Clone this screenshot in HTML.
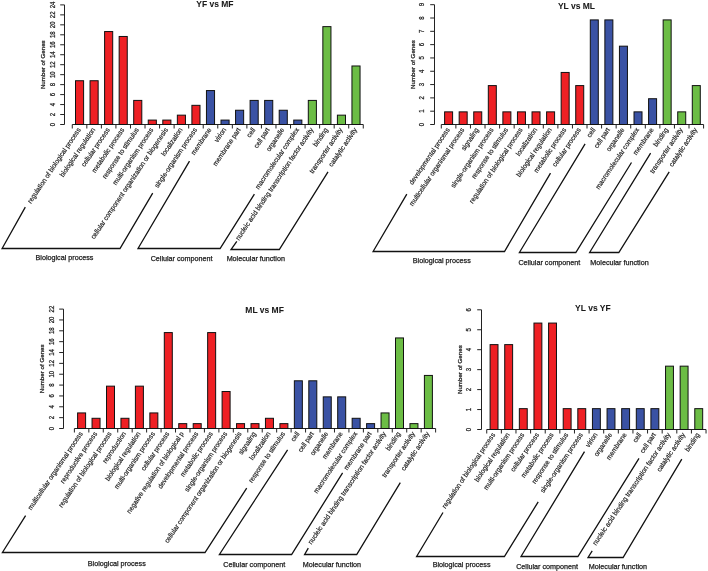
<!DOCTYPE html>
<html><head><meta charset="utf-8"><style>
html,body{margin:0;padding:0;background:#fff;}
svg{display:block;will-change:transform;}
text{font-family:"Liberation Sans", sans-serif;fill:#1a1a1a;stroke:#1a1a1a;stroke-width:0.25px;}
.ax{stroke:#222;stroke-width:1;fill:none;}
.bar{stroke:#111;stroke-width:1;}
.br{stroke:#111;stroke-width:1.3;fill:none;}
.tk{font-size:6.8px;text-anchor:middle;}
.yl{font-size:6.2px;text-anchor:middle;}
.lb{font-size:7.0px;text-anchor:end;stroke-width:0.18px;}
.gp{font-size:7.2px;text-anchor:middle;}
.tt{font-size:8.5px;font-weight:bold;text-anchor:middle;stroke-width:0.05px;}
</style></head><body>
<svg width="708" height="571" viewBox="0 0 708 571">
<rect width="708" height="571" fill="#fff"/>
<line x1="64.5" y1="4.9" x2="64.5" y2="124.5" class="ax"/>
<line x1="60.20" y1="124.50" x2="64.5" y2="124.50" class="ax"/>
<text transform="translate(54.70,124.50) rotate(-90) scale(0.88,1)" class="tk">0</text>
<line x1="60.20" y1="114.53" x2="64.5" y2="114.53" class="ax"/>
<text transform="translate(54.70,114.53) rotate(-90) scale(0.88,1)" class="tk">2</text>
<line x1="60.20" y1="104.57" x2="64.5" y2="104.57" class="ax"/>
<text transform="translate(54.70,104.57) rotate(-90) scale(0.88,1)" class="tk">4</text>
<line x1="60.20" y1="94.60" x2="64.5" y2="94.60" class="ax"/>
<text transform="translate(54.70,94.60) rotate(-90) scale(0.88,1)" class="tk">6</text>
<line x1="60.20" y1="84.63" x2="64.5" y2="84.63" class="ax"/>
<text transform="translate(54.70,84.63) rotate(-90) scale(0.88,1)" class="tk">8</text>
<line x1="60.20" y1="74.67" x2="64.5" y2="74.67" class="ax"/>
<text transform="translate(54.70,74.67) rotate(-90) scale(0.88,1)" class="tk">10</text>
<line x1="60.20" y1="64.70" x2="64.5" y2="64.70" class="ax"/>
<text transform="translate(54.70,64.70) rotate(-90) scale(0.88,1)" class="tk">12</text>
<line x1="60.20" y1="54.73" x2="64.5" y2="54.73" class="ax"/>
<text transform="translate(54.70,54.73) rotate(-90) scale(0.88,1)" class="tk">14</text>
<line x1="60.20" y1="44.77" x2="64.5" y2="44.77" class="ax"/>
<text transform="translate(54.70,44.77) rotate(-90) scale(0.88,1)" class="tk">16</text>
<line x1="60.20" y1="34.80" x2="64.5" y2="34.80" class="ax"/>
<text transform="translate(54.70,34.80) rotate(-90) scale(0.88,1)" class="tk">18</text>
<line x1="60.20" y1="24.83" x2="64.5" y2="24.83" class="ax"/>
<text transform="translate(54.70,24.83) rotate(-90) scale(0.88,1)" class="tk">20</text>
<line x1="60.20" y1="14.87" x2="64.5" y2="14.87" class="ax"/>
<text transform="translate(54.70,14.87) rotate(-90) scale(0.88,1)" class="tk">22</text>
<line x1="60.20" y1="4.90" x2="64.5" y2="4.90" class="ax"/>
<text transform="translate(54.70,4.90) rotate(-90) scale(0.88,1)" class="tk">24</text>
<text transform="translate(44.50,64.70) rotate(-90)" class="yl">Number of Genes</text>
<line x1="72.28" y1="124.5" x2="363.27" y2="124.5" class="ax"/>
<line x1="72.28" y1="124.5" x2="72.28" y2="128.50" class="ax"/>
<line x1="86.83" y1="124.5" x2="86.83" y2="128.50" class="ax"/>
<line x1="101.38" y1="124.5" x2="101.38" y2="128.50" class="ax"/>
<line x1="115.93" y1="124.5" x2="115.93" y2="128.50" class="ax"/>
<line x1="130.48" y1="124.5" x2="130.48" y2="128.50" class="ax"/>
<line x1="145.03" y1="124.5" x2="145.03" y2="128.50" class="ax"/>
<line x1="159.58" y1="124.5" x2="159.58" y2="128.50" class="ax"/>
<line x1="174.12" y1="124.5" x2="174.12" y2="128.50" class="ax"/>
<line x1="188.68" y1="124.5" x2="188.68" y2="128.50" class="ax"/>
<line x1="203.23" y1="124.5" x2="203.23" y2="128.50" class="ax"/>
<line x1="217.78" y1="124.5" x2="217.78" y2="128.50" class="ax"/>
<line x1="232.33" y1="124.5" x2="232.33" y2="128.50" class="ax"/>
<line x1="246.88" y1="124.5" x2="246.88" y2="128.50" class="ax"/>
<line x1="261.43" y1="124.5" x2="261.43" y2="128.50" class="ax"/>
<line x1="275.98" y1="124.5" x2="275.98" y2="128.50" class="ax"/>
<line x1="290.52" y1="124.5" x2="290.52" y2="128.50" class="ax"/>
<line x1="305.08" y1="124.5" x2="305.08" y2="128.50" class="ax"/>
<line x1="319.62" y1="124.5" x2="319.62" y2="128.50" class="ax"/>
<line x1="334.18" y1="124.5" x2="334.18" y2="128.50" class="ax"/>
<line x1="348.73" y1="124.5" x2="348.73" y2="128.50" class="ax"/>
<line x1="363.27" y1="124.5" x2="363.27" y2="128.50" class="ax"/>
<rect x="75.50" y="80.73" width="8.10" height="43.77" fill="#ee2024" class="bar"/>
<text transform="translate(80.95,129.80) rotate(-56) scale(0.932,1)" class="lb">regulation of biological process</text>
<rect x="90.05" y="80.73" width="8.10" height="43.77" fill="#ee2024" class="bar"/>
<text transform="translate(95.50,129.80) rotate(-56) scale(0.932,1)" class="lb">biological regulation</text>
<rect x="104.60" y="31.55" width="8.10" height="92.95" fill="#ee2024" class="bar"/>
<text transform="translate(110.05,129.80) rotate(-56) scale(0.932,1)" class="lb">cellular process</text>
<rect x="119.15" y="36.47" width="8.10" height="88.03" fill="#ee2024" class="bar"/>
<text transform="translate(124.60,129.80) rotate(-56) scale(0.932,1)" class="lb">metabolic process</text>
<rect x="133.70" y="100.41" width="8.10" height="24.09" fill="#ee2024" class="bar"/>
<text transform="translate(139.15,129.80) rotate(-56) scale(0.932,1)" class="lb">response to stimulus</text>
<rect x="148.25" y="120.08" width="8.10" height="4.42" fill="#ee2024" class="bar"/>
<text transform="translate(153.70,129.80) rotate(-56) scale(0.932,1)" class="lb">multi-organism process</text>
<rect x="162.80" y="120.08" width="8.10" height="4.42" fill="#ee2024" class="bar"/>
<text transform="translate(168.25,129.80) rotate(-56) scale(0.932,1)" class="lb">cellular component organization or biogenesis</text>
<rect x="177.35" y="115.16" width="8.10" height="9.34" fill="#ee2024" class="bar"/>
<text transform="translate(182.80,129.80) rotate(-56) scale(0.932,1)" class="lb">localization</text>
<rect x="191.90" y="105.33" width="8.10" height="19.17" fill="#ee2024" class="bar"/>
<text transform="translate(197.35,129.80) rotate(-56) scale(0.932,1)" class="lb">single-organism process</text>
<rect x="206.45" y="90.57" width="8.10" height="33.93" fill="#3a52a4" class="bar"/>
<text transform="translate(211.90,129.80) rotate(-56) scale(0.932,1)" class="lb">membrane</text>
<rect x="221.00" y="120.08" width="8.10" height="4.42" fill="#3a52a4" class="bar"/>
<text transform="translate(226.45,129.80) rotate(-56) scale(0.932,1)" class="lb">virion</text>
<rect x="235.55" y="110.24" width="8.10" height="14.26" fill="#3a52a4" class="bar"/>
<text transform="translate(241.00,129.80) rotate(-56) scale(0.932,1)" class="lb">membrane part</text>
<rect x="250.10" y="100.41" width="8.10" height="24.09" fill="#3a52a4" class="bar"/>
<text transform="translate(255.55,129.80) rotate(-56) scale(0.932,1)" class="lb">cell</text>
<rect x="264.65" y="100.41" width="8.10" height="24.09" fill="#3a52a4" class="bar"/>
<text transform="translate(270.10,129.80) rotate(-56) scale(0.932,1)" class="lb">cell part</text>
<rect x="279.20" y="110.24" width="8.10" height="14.26" fill="#3a52a4" class="bar"/>
<text transform="translate(284.65,129.80) rotate(-56) scale(0.932,1)" class="lb">organelle</text>
<rect x="293.75" y="120.08" width="8.10" height="4.42" fill="#3a52a4" class="bar"/>
<text transform="translate(299.20,129.80) rotate(-56) scale(0.932,1)" class="lb">macromolecular complex</text>
<rect x="308.30" y="100.41" width="8.10" height="24.09" fill="#6cbd45" class="bar"/>
<text transform="translate(313.75,129.80) rotate(-56) scale(0.932,1)" class="lb">nucleic acid binding transcription factor activity</text>
<rect x="322.85" y="26.63" width="8.10" height="97.87" fill="#6cbd45" class="bar"/>
<text transform="translate(328.30,129.80) rotate(-56) scale(0.932,1)" class="lb">binding</text>
<rect x="337.40" y="115.16" width="8.10" height="9.34" fill="#6cbd45" class="bar"/>
<text transform="translate(342.85,129.80) rotate(-56) scale(0.932,1)" class="lb">transporter activity</text>
<rect x="351.95" y="65.98" width="8.10" height="58.52" fill="#6cbd45" class="bar"/>
<text transform="translate(357.40,129.80) rotate(-56) scale(0.932,1)" class="lb">catalytic activity</text>
<polyline points="25.30,207.10 2.10,248.50 120.00,248.50 152.70,193.10" class="br"/>
<polyline points="189.50,161.20 138.00,248.50 220.10,248.50 254.40,194.10" class="br"/>
<polyline points="236.80,241.40 231.00,249.50 279.30,249.50 328.00,171.80" class="br"/>
<text x="64.5" y="259.5" class="gp">Biological process</text>
<text x="181.6" y="260.5" class="gp">Cellular component</text>
<text x="255.8" y="260.5" class="gp">Molecular function</text>
<text x="214.9" y="6.9" class="tt">YF vs MF</text>
<line x1="434.5" y1="4.7" x2="434.5" y2="124.5" class="ax"/>
<line x1="430.20" y1="124.50" x2="434.5" y2="124.50" class="ax"/>
<text transform="translate(423.70,124.50) rotate(-90) scale(0.88,1)" class="tk">0</text>
<line x1="430.20" y1="111.19" x2="434.5" y2="111.19" class="ax"/>
<text transform="translate(423.70,111.19) rotate(-90) scale(0.88,1)" class="tk">1</text>
<line x1="430.20" y1="97.88" x2="434.5" y2="97.88" class="ax"/>
<text transform="translate(423.70,97.88) rotate(-90) scale(0.88,1)" class="tk">2</text>
<line x1="430.20" y1="84.57" x2="434.5" y2="84.57" class="ax"/>
<text transform="translate(423.70,84.57) rotate(-90) scale(0.88,1)" class="tk">3</text>
<line x1="430.20" y1="71.26" x2="434.5" y2="71.26" class="ax"/>
<text transform="translate(423.70,71.26) rotate(-90) scale(0.88,1)" class="tk">4</text>
<line x1="430.20" y1="57.94" x2="434.5" y2="57.94" class="ax"/>
<text transform="translate(423.70,57.94) rotate(-90) scale(0.88,1)" class="tk">5</text>
<line x1="430.20" y1="44.63" x2="434.5" y2="44.63" class="ax"/>
<text transform="translate(423.70,44.63) rotate(-90) scale(0.88,1)" class="tk">6</text>
<line x1="430.20" y1="31.32" x2="434.5" y2="31.32" class="ax"/>
<text transform="translate(423.70,31.32) rotate(-90) scale(0.88,1)" class="tk">7</text>
<line x1="430.20" y1="18.01" x2="434.5" y2="18.01" class="ax"/>
<text transform="translate(423.70,18.01) rotate(-90) scale(0.88,1)" class="tk">8</text>
<line x1="430.20" y1="4.70" x2="434.5" y2="4.70" class="ax"/>
<text transform="translate(423.70,4.70) rotate(-90) scale(0.88,1)" class="tk">9</text>
<text transform="translate(415.20,64.60) rotate(-90)" class="yl">Number of Genes</text>
<line x1="441.31" y1="124.5" x2="703.58" y2="124.5" class="ax"/>
<line x1="441.31" y1="124.5" x2="441.31" y2="128.50" class="ax"/>
<line x1="455.88" y1="124.5" x2="455.88" y2="128.50" class="ax"/>
<line x1="470.45" y1="124.5" x2="470.45" y2="128.50" class="ax"/>
<line x1="485.02" y1="124.5" x2="485.02" y2="128.50" class="ax"/>
<line x1="499.60" y1="124.5" x2="499.60" y2="128.50" class="ax"/>
<line x1="514.16" y1="124.5" x2="514.16" y2="128.50" class="ax"/>
<line x1="528.74" y1="124.5" x2="528.74" y2="128.50" class="ax"/>
<line x1="543.31" y1="124.5" x2="543.31" y2="128.50" class="ax"/>
<line x1="557.88" y1="124.5" x2="557.88" y2="128.50" class="ax"/>
<line x1="572.44" y1="124.5" x2="572.44" y2="128.50" class="ax"/>
<line x1="587.01" y1="124.5" x2="587.01" y2="128.50" class="ax"/>
<line x1="601.59" y1="124.5" x2="601.59" y2="128.50" class="ax"/>
<line x1="616.15" y1="124.5" x2="616.15" y2="128.50" class="ax"/>
<line x1="630.73" y1="124.5" x2="630.73" y2="128.50" class="ax"/>
<line x1="645.30" y1="124.5" x2="645.30" y2="128.50" class="ax"/>
<line x1="659.87" y1="124.5" x2="659.87" y2="128.50" class="ax"/>
<line x1="674.43" y1="124.5" x2="674.43" y2="128.50" class="ax"/>
<line x1="689.00" y1="124.5" x2="689.00" y2="128.50" class="ax"/>
<line x1="703.58" y1="124.5" x2="703.58" y2="128.50" class="ax"/>
<rect x="444.60" y="111.86" width="8.00" height="12.64" fill="#ee2024" class="bar"/>
<text transform="translate(450.00,129.80) rotate(-56) scale(0.932,1)" class="lb">developmental process</text>
<rect x="459.17" y="111.86" width="8.00" height="12.64" fill="#ee2024" class="bar"/>
<text transform="translate(464.57,129.80) rotate(-56) scale(0.932,1)" class="lb">multicellular organismal process</text>
<rect x="473.74" y="111.86" width="8.00" height="12.64" fill="#ee2024" class="bar"/>
<text transform="translate(479.14,129.80) rotate(-56) scale(0.932,1)" class="lb">signaling</text>
<rect x="488.31" y="85.59" width="8.00" height="38.91" fill="#ee2024" class="bar"/>
<text transform="translate(493.71,129.80) rotate(-56) scale(0.932,1)" class="lb">single-organism process</text>
<rect x="502.88" y="111.86" width="8.00" height="12.64" fill="#ee2024" class="bar"/>
<text transform="translate(508.28,129.80) rotate(-56) scale(0.932,1)" class="lb">response to stimulus</text>
<rect x="517.45" y="111.86" width="8.00" height="12.64" fill="#ee2024" class="bar"/>
<text transform="translate(522.85,129.80) rotate(-56) scale(0.932,1)" class="lb">regulation of biological process</text>
<rect x="532.02" y="111.86" width="8.00" height="12.64" fill="#ee2024" class="bar"/>
<text transform="translate(537.42,129.80) rotate(-56) scale(0.932,1)" class="lb">localization</text>
<rect x="546.59" y="111.86" width="8.00" height="12.64" fill="#ee2024" class="bar"/>
<text transform="translate(551.99,129.80) rotate(-56) scale(0.932,1)" class="lb">biological regulation</text>
<rect x="561.16" y="72.45" width="8.00" height="52.05" fill="#ee2024" class="bar"/>
<text transform="translate(566.56,129.80) rotate(-56) scale(0.932,1)" class="lb">metabolic process</text>
<rect x="575.73" y="85.59" width="8.00" height="38.91" fill="#ee2024" class="bar"/>
<text transform="translate(581.13,129.80) rotate(-56) scale(0.932,1)" class="lb">cellular process</text>
<rect x="590.30" y="19.90" width="8.00" height="104.60" fill="#3a52a4" class="bar"/>
<text transform="translate(595.70,129.80) rotate(-56) scale(0.932,1)" class="lb">cell</text>
<rect x="604.87" y="19.90" width="8.00" height="104.60" fill="#3a52a4" class="bar"/>
<text transform="translate(610.27,129.80) rotate(-56) scale(0.932,1)" class="lb">cell part</text>
<rect x="619.44" y="46.17" width="8.00" height="78.33" fill="#3a52a4" class="bar"/>
<text transform="translate(624.84,129.80) rotate(-56) scale(0.932,1)" class="lb">organelle</text>
<rect x="634.01" y="111.86" width="8.00" height="12.64" fill="#3a52a4" class="bar"/>
<text transform="translate(639.41,129.80) rotate(-56) scale(0.932,1)" class="lb">macromolecular complex</text>
<rect x="648.58" y="98.72" width="8.00" height="25.78" fill="#3a52a4" class="bar"/>
<text transform="translate(653.98,129.80) rotate(-56) scale(0.932,1)" class="lb">membrane</text>
<rect x="663.15" y="19.90" width="8.00" height="104.60" fill="#6cbd45" class="bar"/>
<text transform="translate(668.55,129.80) rotate(-56) scale(0.932,1)" class="lb">binding</text>
<rect x="677.72" y="111.86" width="8.00" height="12.64" fill="#6cbd45" class="bar"/>
<text transform="translate(683.12,129.80) rotate(-56) scale(0.932,1)" class="lb">transporter activity</text>
<rect x="692.29" y="85.59" width="8.00" height="38.91" fill="#6cbd45" class="bar"/>
<text transform="translate(697.69,129.80) rotate(-56) scale(0.932,1)" class="lb">catalytic activity</text>
<polyline points="406.80,194.10 373.10,251.50 504.50,251.50 550.50,173.10" class="br"/>
<polyline points="585.10,143.90 519.40,252.50 575.80,252.50 631.50,162.50" class="br"/>
<polyline points="650.60,153.20 589.60,252.50 618.80,252.50 669.20,171.80" class="br"/>
<text x="441.8" y="262.6" class="gp">Biological process</text>
<text x="549.4" y="264.6" class="gp">Cellular component</text>
<text x="619.5" y="264.6" class="gp">Molecular function</text>
<text x="576.5" y="8.8" class="tt">YL vs ML</text>
<line x1="63.5" y1="309.1" x2="63.5" y2="428.5" class="ax"/>
<line x1="59.20" y1="428.50" x2="63.5" y2="428.50" class="ax"/>
<text transform="translate(53.70,428.50) rotate(-90) scale(0.88,1)" class="tk">0</text>
<line x1="59.20" y1="417.65" x2="63.5" y2="417.65" class="ax"/>
<text transform="translate(53.70,417.65) rotate(-90) scale(0.88,1)" class="tk">2</text>
<line x1="59.20" y1="406.79" x2="63.5" y2="406.79" class="ax"/>
<text transform="translate(53.70,406.79) rotate(-90) scale(0.88,1)" class="tk">4</text>
<line x1="59.20" y1="395.94" x2="63.5" y2="395.94" class="ax"/>
<text transform="translate(53.70,395.94) rotate(-90) scale(0.88,1)" class="tk">6</text>
<line x1="59.20" y1="385.08" x2="63.5" y2="385.08" class="ax"/>
<text transform="translate(53.70,385.08) rotate(-90) scale(0.88,1)" class="tk">8</text>
<line x1="59.20" y1="374.23" x2="63.5" y2="374.23" class="ax"/>
<text transform="translate(53.70,374.23) rotate(-90) scale(0.88,1)" class="tk">10</text>
<line x1="59.20" y1="363.37" x2="63.5" y2="363.37" class="ax"/>
<text transform="translate(53.70,363.37) rotate(-90) scale(0.88,1)" class="tk">12</text>
<line x1="59.20" y1="352.52" x2="63.5" y2="352.52" class="ax"/>
<text transform="translate(53.70,352.52) rotate(-90) scale(0.88,1)" class="tk">14</text>
<line x1="59.20" y1="341.66" x2="63.5" y2="341.66" class="ax"/>
<text transform="translate(53.70,341.66) rotate(-90) scale(0.88,1)" class="tk">16</text>
<line x1="59.20" y1="330.81" x2="63.5" y2="330.81" class="ax"/>
<text transform="translate(53.70,330.81) rotate(-90) scale(0.88,1)" class="tk">18</text>
<line x1="59.20" y1="319.95" x2="63.5" y2="319.95" class="ax"/>
<text transform="translate(53.70,319.95) rotate(-90) scale(0.88,1)" class="tk">20</text>
<line x1="59.20" y1="309.10" x2="63.5" y2="309.10" class="ax"/>
<text transform="translate(53.70,309.10) rotate(-90) scale(0.88,1)" class="tk">22</text>
<text transform="translate(44.10,368.80) rotate(-90)" class="yl">Number of Genes</text>
<line x1="74.38" y1="428.5" x2="435.62" y2="428.5" class="ax"/>
<line x1="74.38" y1="428.5" x2="74.38" y2="432.50" class="ax"/>
<line x1="88.83" y1="428.5" x2="88.83" y2="432.50" class="ax"/>
<line x1="103.28" y1="428.5" x2="103.28" y2="432.50" class="ax"/>
<line x1="117.72" y1="428.5" x2="117.72" y2="432.50" class="ax"/>
<line x1="132.18" y1="428.5" x2="132.18" y2="432.50" class="ax"/>
<line x1="146.62" y1="428.5" x2="146.62" y2="432.50" class="ax"/>
<line x1="161.07" y1="428.5" x2="161.07" y2="432.50" class="ax"/>
<line x1="175.52" y1="428.5" x2="175.52" y2="432.50" class="ax"/>
<line x1="189.97" y1="428.5" x2="189.97" y2="432.50" class="ax"/>
<line x1="204.42" y1="428.5" x2="204.42" y2="432.50" class="ax"/>
<line x1="218.88" y1="428.5" x2="218.88" y2="432.50" class="ax"/>
<line x1="233.32" y1="428.5" x2="233.32" y2="432.50" class="ax"/>
<line x1="247.77" y1="428.5" x2="247.77" y2="432.50" class="ax"/>
<line x1="262.23" y1="428.5" x2="262.23" y2="432.50" class="ax"/>
<line x1="276.67" y1="428.5" x2="276.67" y2="432.50" class="ax"/>
<line x1="291.12" y1="428.5" x2="291.12" y2="432.50" class="ax"/>
<line x1="305.57" y1="428.5" x2="305.57" y2="432.50" class="ax"/>
<line x1="320.02" y1="428.5" x2="320.02" y2="432.50" class="ax"/>
<line x1="334.47" y1="428.5" x2="334.47" y2="432.50" class="ax"/>
<line x1="348.93" y1="428.5" x2="348.93" y2="432.50" class="ax"/>
<line x1="363.38" y1="428.5" x2="363.38" y2="432.50" class="ax"/>
<line x1="377.82" y1="428.5" x2="377.82" y2="432.50" class="ax"/>
<line x1="392.27" y1="428.5" x2="392.27" y2="432.50" class="ax"/>
<line x1="406.72" y1="428.5" x2="406.72" y2="432.50" class="ax"/>
<line x1="421.17" y1="428.5" x2="421.17" y2="432.50" class="ax"/>
<line x1="435.62" y1="428.5" x2="435.62" y2="432.50" class="ax"/>
<rect x="77.60" y="412.93" width="8.00" height="15.57" fill="#ee2024" class="bar"/>
<text transform="translate(83.00,433.80) rotate(-56) scale(0.932,1)" class="lb">multicellular organismal process</text>
<rect x="92.05" y="418.29" width="8.00" height="10.21" fill="#ee2024" class="bar"/>
<text transform="translate(97.45,433.80) rotate(-56) scale(0.932,1)" class="lb">reproductive process</text>
<rect x="106.50" y="386.15" width="8.00" height="42.35" fill="#ee2024" class="bar"/>
<text transform="translate(111.90,433.80) rotate(-56) scale(0.932,1)" class="lb">regulation of biological process</text>
<rect x="120.95" y="418.29" width="8.00" height="10.21" fill="#ee2024" class="bar"/>
<text transform="translate(126.35,433.80) rotate(-56) scale(0.932,1)" class="lb">reproduction</text>
<rect x="135.40" y="386.15" width="8.00" height="42.35" fill="#ee2024" class="bar"/>
<text transform="translate(140.80,433.80) rotate(-56) scale(0.932,1)" class="lb">biological regulation</text>
<rect x="149.85" y="412.93" width="8.00" height="15.57" fill="#ee2024" class="bar"/>
<text transform="translate(155.25,433.80) rotate(-56) scale(0.932,1)" class="lb">multi-organism process</text>
<rect x="164.30" y="332.58" width="8.00" height="95.92" fill="#ee2024" class="bar"/>
<text transform="translate(169.70,433.80) rotate(-56) scale(0.932,1)" class="lb">cellular process</text>
<rect x="178.75" y="423.64" width="8.00" height="4.86" fill="#ee2024" class="bar"/>
<text transform="translate(184.15,433.80) rotate(-56) scale(0.932,1)" class="lb">negative regulation of biological p</text>
<rect x="193.20" y="423.64" width="8.00" height="4.86" fill="#ee2024" class="bar"/>
<text transform="translate(198.60,433.80) rotate(-56) scale(0.932,1)" class="lb">developmental process</text>
<rect x="207.65" y="332.58" width="8.00" height="95.92" fill="#ee2024" class="bar"/>
<text transform="translate(213.05,433.80) rotate(-56) scale(0.932,1)" class="lb">metabolic process</text>
<rect x="222.10" y="391.50" width="8.00" height="37.00" fill="#ee2024" class="bar"/>
<text transform="translate(227.50,433.80) rotate(-56) scale(0.932,1)" class="lb">single-organism process</text>
<rect x="236.55" y="423.64" width="8.00" height="4.86" fill="#ee2024" class="bar"/>
<text transform="translate(241.95,433.80) rotate(-56) scale(0.932,1)" class="lb">cellular component organization or biogenesis</text>
<rect x="251.00" y="423.64" width="8.00" height="4.86" fill="#ee2024" class="bar"/>
<text transform="translate(256.40,433.80) rotate(-56) scale(0.932,1)" class="lb">signaling</text>
<rect x="265.45" y="418.29" width="8.00" height="10.21" fill="#ee2024" class="bar"/>
<text transform="translate(270.85,433.80) rotate(-56) scale(0.932,1)" class="lb">localization</text>
<rect x="279.90" y="423.64" width="8.00" height="4.86" fill="#ee2024" class="bar"/>
<text transform="translate(285.30,433.80) rotate(-56) scale(0.932,1)" class="lb">response to stimulus</text>
<rect x="294.35" y="380.79" width="8.00" height="47.71" fill="#3a52a4" class="bar"/>
<text transform="translate(299.75,433.80) rotate(-56) scale(0.932,1)" class="lb">cell</text>
<rect x="308.80" y="380.79" width="8.00" height="47.71" fill="#3a52a4" class="bar"/>
<text transform="translate(314.20,433.80) rotate(-56) scale(0.932,1)" class="lb">cell part</text>
<rect x="323.25" y="396.86" width="8.00" height="31.64" fill="#3a52a4" class="bar"/>
<text transform="translate(328.65,433.80) rotate(-56) scale(0.932,1)" class="lb">organelle</text>
<rect x="337.70" y="396.86" width="8.00" height="31.64" fill="#3a52a4" class="bar"/>
<text transform="translate(343.10,433.80) rotate(-56) scale(0.932,1)" class="lb">membrane</text>
<rect x="352.15" y="418.29" width="8.00" height="10.21" fill="#3a52a4" class="bar"/>
<text transform="translate(357.55,433.80) rotate(-56) scale(0.932,1)" class="lb">macromolecular complex</text>
<rect x="366.60" y="423.64" width="8.00" height="4.86" fill="#3a52a4" class="bar"/>
<text transform="translate(372.00,433.80) rotate(-56) scale(0.932,1)" class="lb">membrane part</text>
<rect x="381.05" y="412.93" width="8.00" height="15.57" fill="#6cbd45" class="bar"/>
<text transform="translate(386.45,433.80) rotate(-56) scale(0.932,1)" class="lb">nucleic acid binding transcription factor activity</text>
<rect x="395.50" y="337.94" width="8.00" height="90.56" fill="#6cbd45" class="bar"/>
<text transform="translate(400.90,433.80) rotate(-56) scale(0.932,1)" class="lb">binding</text>
<rect x="409.95" y="423.64" width="8.00" height="4.86" fill="#6cbd45" class="bar"/>
<text transform="translate(415.35,433.80) rotate(-56) scale(0.932,1)" class="lb">transporter activity</text>
<rect x="424.40" y="375.43" width="8.00" height="53.07" fill="#6cbd45" class="bar"/>
<text transform="translate(429.80,433.80) rotate(-56) scale(0.932,1)" class="lb">catalytic activity</text>
<polyline points="25.60,515.60 2.40,552.50 205.00,552.50 246.70,488.20" class="br"/>
<polyline points="287.60,449.90 219.40,554.50 291.60,554.50 342.60,472.90" class="br"/>
<polyline points="308.30,548.20 304.60,554.50 356.70,554.50 400.30,482.60" class="br"/>
<text x="116.8" y="566" class="gp">Biological process</text>
<text x="254.2" y="567" class="gp">Cellular component</text>
<text x="331.9" y="567" class="gp">Molecular function</text>
<text x="264.6" y="312.8" class="tt">ML vs MF</text>
<line x1="481.5" y1="309.8" x2="481.5" y2="429.5" class="ax"/>
<line x1="477.20" y1="429.50" x2="481.5" y2="429.50" class="ax"/>
<text transform="translate(470.50,429.50) rotate(-90) scale(0.88,1)" class="tk">0</text>
<line x1="477.20" y1="409.55" x2="481.5" y2="409.55" class="ax"/>
<text transform="translate(470.50,409.55) rotate(-90) scale(0.88,1)" class="tk">1</text>
<line x1="477.20" y1="389.60" x2="481.5" y2="389.60" class="ax"/>
<text transform="translate(470.50,389.60) rotate(-90) scale(0.88,1)" class="tk">2</text>
<line x1="477.20" y1="369.65" x2="481.5" y2="369.65" class="ax"/>
<text transform="translate(470.50,369.65) rotate(-90) scale(0.88,1)" class="tk">3</text>
<line x1="477.20" y1="349.70" x2="481.5" y2="349.70" class="ax"/>
<text transform="translate(470.50,349.70) rotate(-90) scale(0.88,1)" class="tk">4</text>
<line x1="477.20" y1="329.75" x2="481.5" y2="329.75" class="ax"/>
<text transform="translate(470.50,329.75) rotate(-90) scale(0.88,1)" class="tk">5</text>
<line x1="477.20" y1="309.80" x2="481.5" y2="309.80" class="ax"/>
<text transform="translate(470.50,309.80) rotate(-90) scale(0.88,1)" class="tk">6</text>
<text transform="translate(462.20,369.65) rotate(-90)" class="yl">Number of Genes</text>
<line x1="486.74" y1="429.5" x2="706.04" y2="429.5" class="ax"/>
<line x1="486.74" y1="429.5" x2="486.74" y2="433.50" class="ax"/>
<line x1="501.36" y1="429.5" x2="501.36" y2="433.50" class="ax"/>
<line x1="515.98" y1="429.5" x2="515.98" y2="433.50" class="ax"/>
<line x1="530.60" y1="429.5" x2="530.60" y2="433.50" class="ax"/>
<line x1="545.22" y1="429.5" x2="545.22" y2="433.50" class="ax"/>
<line x1="559.84" y1="429.5" x2="559.84" y2="433.50" class="ax"/>
<line x1="574.46" y1="429.5" x2="574.46" y2="433.50" class="ax"/>
<line x1="589.08" y1="429.5" x2="589.08" y2="433.50" class="ax"/>
<line x1="603.70" y1="429.5" x2="603.70" y2="433.50" class="ax"/>
<line x1="618.32" y1="429.5" x2="618.32" y2="433.50" class="ax"/>
<line x1="632.94" y1="429.5" x2="632.94" y2="433.50" class="ax"/>
<line x1="647.56" y1="429.5" x2="647.56" y2="433.50" class="ax"/>
<line x1="662.18" y1="429.5" x2="662.18" y2="433.50" class="ax"/>
<line x1="676.80" y1="429.5" x2="676.80" y2="433.50" class="ax"/>
<line x1="691.42" y1="429.5" x2="691.42" y2="433.50" class="ax"/>
<line x1="706.04" y1="429.5" x2="706.04" y2="433.50" class="ax"/>
<rect x="490.10" y="344.61" width="7.90" height="84.89" fill="#ee2024" class="bar"/>
<text transform="translate(495.45,434.80) rotate(-56) scale(0.932,1)" class="lb">regulation of biological process</text>
<rect x="504.72" y="344.61" width="7.90" height="84.89" fill="#ee2024" class="bar"/>
<text transform="translate(510.07,434.80) rotate(-56) scale(0.932,1)" class="lb">biological regulation</text>
<rect x="519.34" y="408.65" width="7.90" height="20.85" fill="#ee2024" class="bar"/>
<text transform="translate(524.69,434.80) rotate(-56) scale(0.932,1)" class="lb">multi-organism process</text>
<rect x="533.96" y="323.07" width="7.90" height="106.43" fill="#ee2024" class="bar"/>
<text transform="translate(539.31,434.80) rotate(-56) scale(0.932,1)" class="lb">cellular process</text>
<rect x="548.58" y="323.07" width="7.90" height="106.43" fill="#ee2024" class="bar"/>
<text transform="translate(553.93,434.80) rotate(-56) scale(0.932,1)" class="lb">metabolic process</text>
<rect x="563.20" y="408.65" width="7.90" height="20.85" fill="#ee2024" class="bar"/>
<text transform="translate(568.55,434.80) rotate(-56) scale(0.932,1)" class="lb">response to stimulus</text>
<rect x="577.82" y="408.65" width="7.90" height="20.85" fill="#ee2024" class="bar"/>
<text transform="translate(583.17,434.80) rotate(-56) scale(0.932,1)" class="lb">single-organism process</text>
<rect x="592.44" y="408.65" width="7.90" height="20.85" fill="#3a52a4" class="bar"/>
<text transform="translate(597.79,434.80) rotate(-56) scale(0.932,1)" class="lb">virion</text>
<rect x="607.06" y="408.65" width="7.90" height="20.85" fill="#3a52a4" class="bar"/>
<text transform="translate(612.41,434.80) rotate(-56) scale(0.932,1)" class="lb">organelle</text>
<rect x="621.68" y="408.65" width="7.90" height="20.85" fill="#3a52a4" class="bar"/>
<text transform="translate(627.03,434.80) rotate(-56) scale(0.932,1)" class="lb">membrane</text>
<rect x="636.30" y="408.65" width="7.90" height="20.85" fill="#3a52a4" class="bar"/>
<text transform="translate(641.65,434.80) rotate(-56) scale(0.932,1)" class="lb">cell</text>
<rect x="650.92" y="408.65" width="7.90" height="20.85" fill="#3a52a4" class="bar"/>
<text transform="translate(656.27,434.80) rotate(-56) scale(0.932,1)" class="lb">cell part</text>
<rect x="665.54" y="366.16" width="7.90" height="63.34" fill="#6cbd45" class="bar"/>
<text transform="translate(670.89,434.80) rotate(-56) scale(0.932,1)" class="lb">nucleic acid binding transcription factor activity</text>
<rect x="680.16" y="366.16" width="7.90" height="63.34" fill="#6cbd45" class="bar"/>
<text transform="translate(685.51,434.80) rotate(-56) scale(0.932,1)" class="lb">catalytic activity</text>
<rect x="694.78" y="408.65" width="7.90" height="20.85" fill="#6cbd45" class="bar"/>
<text transform="translate(700.13,434.80) rotate(-56) scale(0.932,1)" class="lb">binding</text>
<polyline points="443.00,512.50 416.60,556.50 504.40,556.50 538.20,501.90" class="br"/>
<polyline points="584.50,451.70 521.00,556.50 577.90,556.50 639.00,458.30" class="br"/>
<polyline points="592.20,550.80 588.00,557.50 623.10,557.50 681.80,459.10" class="br"/>
<text x="461.6" y="567.0" class="gp">Biological process</text>
<text x="547.1" y="568.5" class="gp">Cellular component</text>
<text x="617.9" y="569" class="gp">Molecular function</text>
<text x="592.9" y="311.3" class="tt">YL vs YF</text>
</svg></body></html>
